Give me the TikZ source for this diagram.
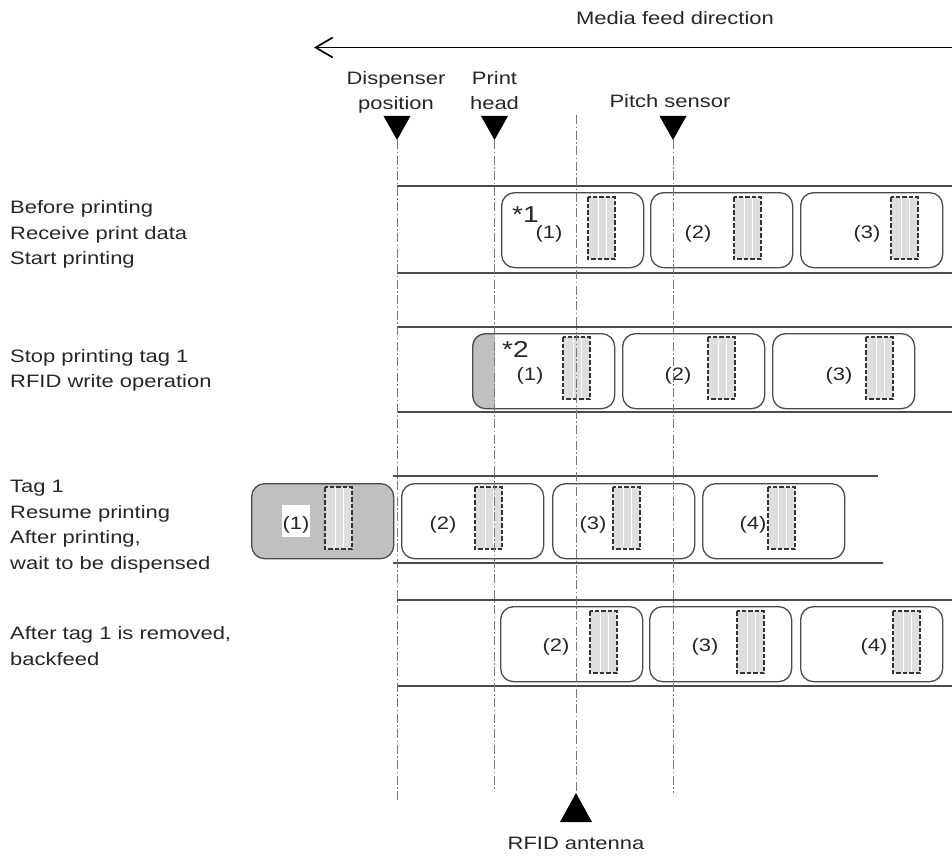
\documentclass[tikz,border=0pt]{standalone}
\usepackage{fontspec}
\setmainfont{Liberation Sans}[FakeStretch=1.22]
\usetikzlibrary{arrows.meta}
\definecolor{labgray}{RGB}{192,192,192}
\definecolor{linegray}{RGB}{75,75,75}
\definecolor{dashgray}{RGB}{120,120,120}
\definecolor{stripegray}{RGB}{222,222,222}
\begin{document}
\begin{tikzpicture}[x=1pt,y=-1pt,
  txt/.style={font=\fontsize{18}{25.5}\selectfont, text=black!85, inner sep=0pt, anchor=base},
  lefttxt/.style={txt, anchor=base west},
  startxt/.style={font=\fontsize{23}{23}\selectfont, text=black!85, inner sep=0pt, anchor=base west},
  strip/.style={draw=linegray, line width=1.7pt},
  labelbox/.style={draw=linegray, line width=1.3pt, rounded corners=13pt, minimum width=142pt, minimum height=75pt, anchor=north west, inner sep=0pt},
  axisline/.style={draw=dashgray, line width=0.9pt, dash pattern=on 9pt off 2.5pt on 1.5pt off 2.5pt},
  inlayborder/.style={draw=black!80, line width=1.3pt, dash pattern=on 4.5pt off 2pt},
  inlay/.pic={
    \fill[stripegray] (0,0) rectangle (27,62);
    \draw[white, line width=1pt] (10,0) -- (10,62) (18,0) -- (18,62);
    \draw[inlayborder] (0,0) rectangle (27,62);
  }
]
\useasboundingbox (0,0) rectangle (952,856);

% feed direction arrow
\node[txt] (feed) at (675,25) {Media feed direction};
\coordinate (arrR) at (952,47.5);
\coordinate (arrL) at (314,47.5);
\draw[line width=1.7pt, -{Straight Barb[length=17pt,width=20pt]}] (arrR) -- (arrL);

% position labels
\node[txt] (disp1) at (396,85) {Dispenser};
\node[txt] (disp2) at (396,110) {position};
\node[txt] (head1) at (494.5,85) {Print};
\node[txt] (head2) at (494.5,110) {head};
\node[txt] (pitch) at (670,107) {Pitch sensor};
\node[txt] (rfid) at (576,849) {RFID antenna};

% strips
\draw[strip] (397,186) -- (952,186) (397,273) -- (952,273);
\draw[strip] (397,327) -- (952,327) (397,412) -- (952,412);
\draw[strip] (393,476) -- (878,476) (393,563) -- (883,563);
\draw[strip] (397,600) -- (952,600) (397,686) -- (952,686);

% row 1
\node[labelbox] (r1a) at (501,192) {};
\node[labelbox] (r1b) at (650,192) {};
\node[labelbox] (r1c) at (800,192) {};
\pic at (588,197) {inlay};
\pic at (734,197) {inlay};
\pic at (891,197) {inlay};
\node[startxt] (n1) at (512,222) {*1};
\node[txt] (r1at) at (549,238) {(1)};
\node[txt] (r1bt) at (698,238) {(2)};
\node[txt] (r1ct) at (867,238) {(3)};

% row 2
\begin{scope}
  \clip[rounded corners=13pt] (472,333) rectangle (614,408);
  \fill[labgray] (472,333) rectangle (494.5,408);
\end{scope}
\node[labelbox] (r2a) at (472,333) {};
\node[labelbox] (r2b) at (622,333) {};
\node[labelbox] (r2c) at (772,333) {};
\pic at (563,337) {inlay};
\pic at (708,337) {inlay};
\pic at (866,337) {inlay};
\node[startxt] (n2) at (502,357) {*2};
\node[txt] (r2at) at (530,380) {(1)};
\node[txt] (r2bt) at (678,380) {(2)};
\node[txt] (r2ct) at (839,380) {(3)};

% row 3
\node[labelbox, fill=labgray] (r3a) at (251,483) {};
\node[labelbox] (r3b) at (401,483) {};
\node[labelbox] (r3c) at (552,483) {};
\node[labelbox] (r3d) at (702,483) {};
\pic at (325,487) {inlay};
\pic at (475,487) {inlay};
\pic at (613,487) {inlay};
\pic at (768,487) {inlay};
\fill[white] (282,505) rectangle (310,537);
\node[txt] (r3at) at (296,529) {(1)};
\node[txt] (r3bt) at (443,529) {(2)};
\node[txt] (r3ct) at (593,529) {(3)};
\node[txt] (r3dt) at (753,529) {(4)};

% row 4
\node[labelbox] (r4a) at (500,606) {};
\node[labelbox] (r4b) at (649,606) {};
\node[labelbox] (r4c) at (800,606) {};
\pic at (590,611) {inlay};
\pic at (737,611) {inlay};
\pic at (893,611) {inlay};
\node[txt] (r4at) at (556,651) {(2)};
\node[txt] (r4bt) at (705,651) {(3)};
\node[txt] (r4ct) at (874,651) {(4)};

% left captions
\node[lefttxt] (c11) at (10,213) {Before printing};
\node[lefttxt] (c12) at (10,239) {Receive print data};
\node[lefttxt] (c13) at (10,264) {Start printing};
\node[lefttxt] (c21) at (10,362) {Stop printing tag 1};
\node[lefttxt] (c22) at (10,387) {RFID write operation};
\node[lefttxt] (c31) at (10,492) {Tag 1};
\node[lefttxt] (c32) at (10,518) {Resume printing};
\node[lefttxt] (c33) at (10,543) {After printing,};
\node[lefttxt] (c34) at (10,569) {wait to be dispensed};
\node[lefttxt] (c41) at (10,639) {After tag 1 is removed,};
\node[lefttxt] (c42) at (10,665) {backfeed};

% markers and axis lines
\coordinate (dispT) at (397,140);
\coordinate (dispB) at (397,800);
\coordinate (headT) at (494.5,140);
\coordinate (headB) at (494.5,790);
\coordinate (pitchT) at (673,140);
\coordinate (pitchB) at (673,793);
\coordinate (rfidTop) at (576,115);
\coordinate (rfidT) at (576,793);
\fill (dispT) -- ++(-13.5,-24) -- ++(27,0) -- cycle;
\fill (headT) -- ++(-13.5,-24) -- ++(27,0) -- cycle;
\fill (pitchT) -- ++(-13.5,-24) -- ++(27,0) -- cycle;
\fill (rfidT) -- ++(-16,29) -- ++(32,0) -- cycle;
\draw[axisline] (dispT) -- (dispB);
\draw[axisline] (headT) -- (headB);
\draw[axisline] (pitchT) -- (pitchB);
\draw[axisline] (rfidTop) -- (rfidT);
\end{tikzpicture}
\end{document}
